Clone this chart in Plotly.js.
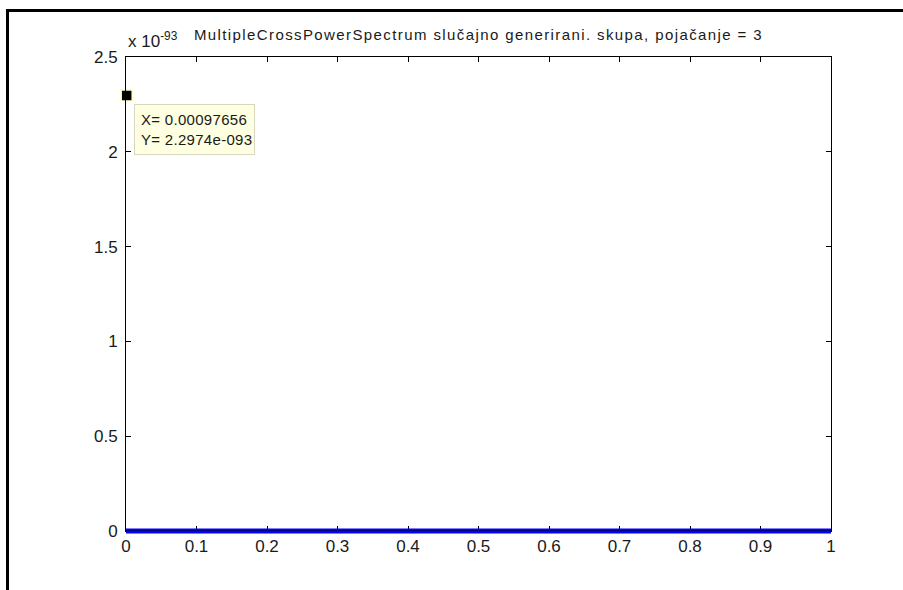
<!DOCTYPE html>
<html>
<head>
<meta charset="utf-8">
<script src="https://cdn.plot.ly/plotly-3.0.1.min.js"></script>
<style>
  html, body { margin: 0; padding: 0; background: #fff; }
  #wrap { position: relative; width: 903px; height: 590px; overflow: hidden; }
  #chart { position: absolute; left: 0; top: 0; width: 903px; height: 590px; }
  #frame { position: absolute; left: 6px; top: 9px; width: 920px; height: 600px;
           border-top: 3px solid #000; border-left: 3px solid #000; pointer-events: none; }
  /* wide screen-font spacing for the title and the data cursor box */
  #chart .gtitle { letter-spacing: 1.4px; }
  #chart g.annotation[data-index="1"] .annotation-text { letter-spacing: 0.3px; }
</style>
</head>
<body>
<div id="wrap">
  <div id="chart"></div>
  <div id="frame"></div>
</div>
<script>
// Normalised frequency axis and the spectrum power along it
const frequency = [0, 0.1, 0.2, 0.3, 0.4, 0.5, 0.6, 0.7, 0.8, 0.9, 1];
const power     = [0, 0, 0, 0, 0, 0, 0, 0, 0, 0, 0];

// Data cursor placed on the first spectral bin
const tipX = 0.00097656;
const tipY = 2.2974e-93;

// Axis ticks (y values carry the common 10^-93 factor)
const xTicks = [0, 0.1, 0.2, 0.3, 0.4, 0.5, 0.6, 0.7, 0.8, 0.9, 1];
const xTickText = ['0', '0.1', '0.2', '0.3', '0.4', '0.5', '0.6', '0.7', '0.8', '0.9', '1'];
const yScale = 1e-93;
const yTicks = [0, 0.5, 1, 1.5, 2, 2.5];
const yTickText = ['0', '0.5', '1', '1.5', '2', '2.5'];

// MATLAB-style exponent with three digits, e.g. 2.2974e-093
function matlabExp(v) {
  const s = v.toExponential(4);
  const m = s.match(/^(-?[\d.]+)e([+-])(\d+)$/);
  return m[1] + 'e' + m[2] + m[3].padStart(3, '0');
}

const FONT = 'Liberation Sans, Arial, sans-serif';
const INK = '#1a1a1a';

// Plot area geometry: the thick spectrum line lives on a helper y axis whose
// domain reaches a few pixels below the zero line so the stroke is not cut.
const plotH = 590 - 57 - 55;          // 478 px
const extra = 4;                      // px below the zero line
const yTop = 2.5 * yScale;
const yLo2 = -yTop * extra / (plotH - extra);

const traces = [
  {
    x: frequency, y: power, xaxis: 'x', yaxis: 'y2',
    type: 'scatter', mode: 'lines',
    line: { color: '#0000ff', width: 5 },
    hoverinfo: 'skip', showlegend: false
  },
  {
    x: [tipX], y: [tipY], xaxis: 'x', yaxis: 'y',
    type: 'scatter', mode: 'markers',
    marker: { symbol: 'square', size: 11, color: '#000', line: { color: '#ffffc8', width: 1.5 } },
    cliponaxis: false, hoverinfo: 'skip', showlegend: false
  }
];

const axisCommon = {
  showline: true, linecolor: '#000', linewidth: 1, mirror: 'ticks',
  ticks: 'inside', ticklen: 5, tickwidth: 1, tickcolor: '#000',
  showgrid: false, zeroline: false, tickmode: 'array',
  tickfont: { family: FONT, size: 17, color: INK }
};

const layout = {
  width: 903, height: 590,
  margin: { l: 126, r: 72, t: 57, b: 55 },
  paper_bgcolor: '#fff', plot_bgcolor: 'rgba(0,0,0,0)',
  showlegend: false,
  title: {
    text: 'MultipleCrossPowerSpectrum slučajno generirani. skupa, pojačanje = 3',
    font: { family: FONT, size: 15, color: INK },
    x: 0.5, xref: 'paper', xanchor: 'center',
    y: 1, yref: 'paper', yanchor: 'bottom', pad: { b: 17 }
  },
  xaxis: Object.assign({}, axisCommon, {
    range: [0, 1], tickvals: xTicks, ticktext: xTickText, anchor: 'y'
  }),
  yaxis: Object.assign({}, axisCommon, {
    domain: [extra / plotH, 1],
    range: [0, yTop], ticklabelstandoff: 4,
    tickvals: yTicks.map(v => v * yScale), ticktext: yTickText
  }),
  yaxis2: {
    domain: [0, 1], anchor: 'x', range: [yLo2, yTop],
    visible: false, showgrid: false, zeroline: false
  },
  shapes: [
    // bottom axis line redrawn over the spectrum stroke
    { type: 'line', xref: 'paper', yref: 'y', x0: 0, x1: 1, y0: 0, y1: 0,
      line: { color: '#000', width: 1 }, layer: 'above' }
  ],
  annotations: [
    {
      text: 'x 10<sup>-93</sup>', xref: 'paper', yref: 'paper', x: 0, y: 1,
      xanchor: 'left', yanchor: 'bottom', yshift: 4, showarrow: false,
      font: { family: FONT, size: 17, color: INK }
    },
    {
      text: 'X= ' + tipX.toPrecision(5) + '<br>Y= ' + matlabExp(tipY),
      xref: 'x', yref: 'y', x: tipX, y: tipY,
      xanchor: 'left', yanchor: 'top', xshift: 7, yshift: -9,
      align: 'left', showarrow: false,
      bgcolor: '#ffffe1', bordercolor: '#d8d8c0', borderwidth: 1, borderpad: 6,
      font: { family: FONT, size: 15, color: INK }
    }
  ]
};

Plotly.newPlot('chart', traces, layout, { staticPlot: true, displayModeBar: false });
</script>
</body>
</html>
